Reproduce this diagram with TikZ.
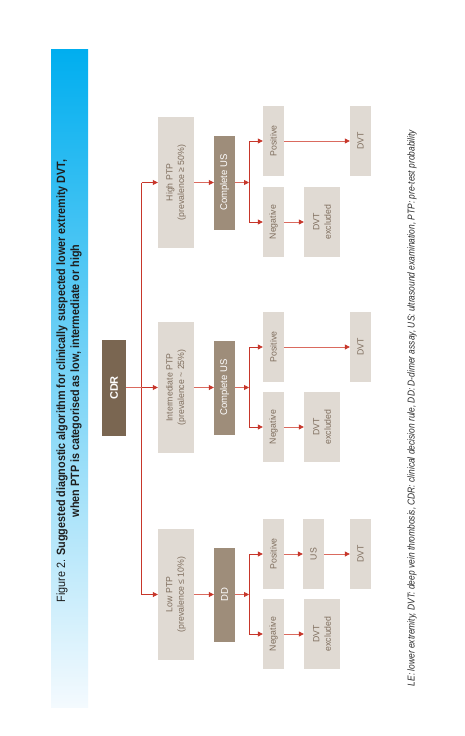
\documentclass[tikz,border=0pt]{standalone}
\usepackage{fontspec}
\setmainfont{Liberation Sans}
\newfontfamily\titlef[FakeStretch=0.90]{Liberation Sans}
\newfontfamily\footf[FakeStretch=0.84]{Liberation Sans}
\newfontfamily\boxf[FakeStretch=0.97]{Liberation Sans}
\usetikzlibrary{arrows.meta,calc}
\definecolor{bandtop}{HTML}{00AEEF}
\definecolor{bandbot}{HTML}{F4FAFE}
\definecolor{boxlight}{HTML}{E0DAD3}
\definecolor{boxmid}{HTML}{9E8D7A}
\definecolor{boxdark}{HTML}{7A6651}
\definecolor{boxtext}{HTML}{7F6E5E}
\definecolor{arrred}{HTML}{C7362A}
\definecolor{linepink}{HTML}{DA6A5E}
\definecolor{titletext}{HTML}{1E1E1E}
\definecolor{foottext}{HTML}{2A2A2A}
\tikzset{
  lbox/.style={fill=boxlight, rotate=90, text=boxtext, align=center, inner sep=0pt,
    font=\boxf\fontsize{9}{11.5}\selectfont},
  mbox/.style={fill=boxmid, rotate=90, text=white, align=center, inner sep=0pt,
    font=\boxf\fontsize{9.8}{11}\selectfont},
  dbox/.style={fill=boxdark, rotate=90, text=white, align=center, inner sep=0pt,
    font=\bfseries\fontsize{11}{13}\selectfont},
  ptpbox/.style={lbox, minimum width=131pt, minimum height=36pt},
  testbox/.style={mbox, minimum width=94pt, minimum height=21pt},
  resbox/.style={lbox, minimum width=70pt, minimum height=21pt},
  exbox/.style={lbox, minimum width=70pt, minimum height=36pt},
  spine/.style={draw=arrred, line width=0.8pt},
  arr/.style={draw=linepink, line width=0.8pt, -{Triangle[length=5pt,width=5pt,color=arrred]}},
  arrd/.style={draw=arrred, line width=0.8pt, -{Triangle[length=5pt,width=5pt,color=arrred]}},
}
\begin{document}
\begin{tikzpicture}[x=1pt,y=-1pt]
\useasboundingbox[fill=white] (0,0) rectangle (465,736);
% title band
\shade[top color=bandtop, bottom color=bandbot] (51,49) rectangle (88,707);
\node[rotate=90, align=center, text=titletext, inner sep=0pt,
  font=\titlef\fontsize{12}{14}\selectfont] (title) at (69,381)
  {Figure 2. \textbf{Suggested diagnostic algorithm for clinically suspected lower extremity DVT,}\\
   \textbf{when PTP is categorised as low, intermediate or high}};
% CDR
\node[dbox, minimum width=96pt, minimum height=24pt] (cdr) at (114,388) {CDR};
% PTP boxes
\node[ptpbox] (high) at (176,182.5) {High PTP\\(prevalence ≥ 50\%)};
\node[ptpbox] (inter) at (176,387.5) {Intermediate PTP\\(prevalence \textasciitilde\ 25\%)};
\node[ptpbox] (low) at (176,594.5) {Low PTP\\(prevalence ≤ 10\%)};
% test boxes
\node[testbox] (cus1) at (224.5,182.5) {Complete US};
\node[testbox] (cus2) at (224.5,387.5) {Complete US};
\node[testbox] (dd) at (224.5,594.5) {DD};
% result boxes
\node[resbox] (pos1) at (273.5,141) {Positive};
\node[resbox] (neg1) at (273.5,222) {Negative};
\node[resbox] (pos2) at (273.5,347) {Positive};
\node[resbox] (neg2) at (273.5,427) {Negative};
\node[resbox] (pos3) at (273.5,554) {Positive};
\node[resbox] (neg3) at (273.5,634) {Negative};
\node[resbox] (us3) at (313.5,554) {US};
\node[resbox] (dvt1) at (360.5,141) {DVT};
\node[resbox] (dvt2) at (360.5,347) {DVT};
\node[resbox] (dvt3) at (360.5,554) {DVT};
\node[exbox] (ex1) at (322,222) {DVT\\excluded};
\node[exbox] (ex2) at (322,427) {DVT\\excluded};
\node[exbox] (ex3) at (322,634) {DVT\\excluded};
% footnote
\node[rotate=90, inner sep=0pt, text=foottext,
  font=\footf\itshape\fontsize{10}{12}\selectfont] (foot) at (412,408)
  {LE: lower extremity, DVT: deep vein thrombosis, CDR: clinical decision rule, DD: D-dimer assay, US: ultrasound examination, PTP: pre-test probability};
% spine from CDR
\coordinate (spT) at (141.5,182.5);
\coordinate (spB) at (141.5,594.5);
\draw[spine] (spT) -- (spB);
\draw[draw=linepink, line width=0.8pt] (cdr.south |- inter.north) -- (spT |- inter.north);
\draw[arrd] (spT) -- (high.north);
\draw[arrd] (spT |- inter.north) -- (inter.north);
\draw[arrd] (spB) -- (low.north);
% PTP to tests
\draw[arr] (high.south) -- (cus1.north);
\draw[arr] (inter.south) -- (cus2.north);
\draw[arr] (low.south) -- (dd.north);
% branch points
\coordinate (b1) at (249,182.5);
\coordinate (b2) at (249,387.5);
\coordinate (b3) at (249,594.5);
\draw[arr] (cus1.south) -- (b1);
\draw[arr] (cus2.south) -- (b2);
\draw[arr] (dd.south) -- (b3);
\draw[spine] (b1 |- pos1.north) -- (b1 |- neg1.north);
\draw[spine] (b2 |- pos2.north) -- (b2 |- neg2.north);
\draw[spine] (b3 |- pos3.north) -- (b3 |- neg3.north);
\draw[arrd] (b1 |- pos1.north) -- (pos1.north);
\draw[arrd] (b1 |- neg1.north) -- (neg1.north);
\draw[arrd] (b2 |- pos2.north) -- (pos2.north);
\draw[arrd] (b2 |- neg2.north) -- (neg2.north);
\draw[arrd] (b3 |- pos3.north) -- (pos3.north);
\draw[arrd] (b3 |- neg3.north) -- (neg3.north);
% results
\draw[arr] (pos1.south) -- (dvt1.north);
\draw[arr] (pos2.south) -- (dvt2.north);
\draw[arr] (pos3.south) -- (us3.north);
\draw[arr] (us3.south) -- (dvt3.north);
\draw[arr] (neg1.south) -- (ex1.north);
\draw[arr] (neg2.south) -- (ex2.north);
\draw[arr] (neg3.south) -- (ex3.north);
\end{tikzpicture}
\end{document}
